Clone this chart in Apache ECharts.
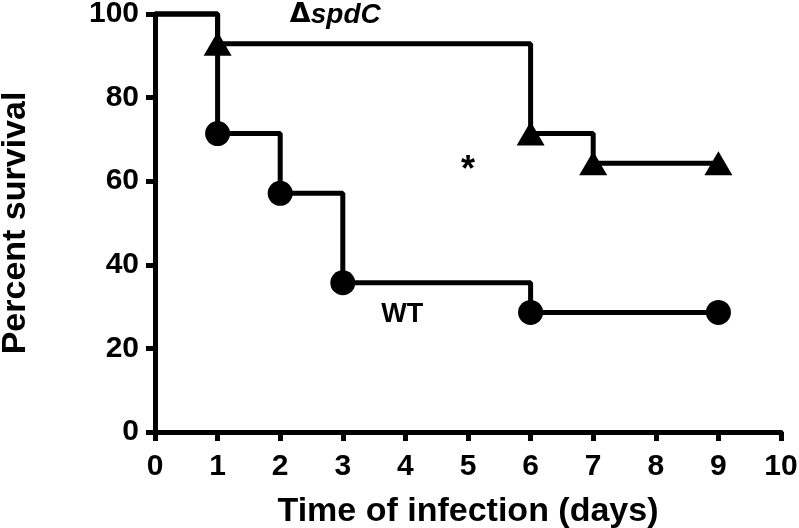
<!DOCTYPE html>
<html>
<head>
<meta charset="utf-8">
<script src="https://cdn.jsdelivr.net/npm/echarts@6/dist/echarts.min.js"></script>
<style>
  html, body { margin: 0; padding: 0; background: #fff; }
  #survivalChart { width: 799px; height: 528px; }
</style>
</head>
<body>
<div id="survivalChart"></div>
<script>
  // Kaplan-Meier steps
  var spdcDays = [0, 1, 6, 7, 9]
  var spdcSurvival = [100, 92.9, 71.4, 64.3, 64.3]
  var wtDays = [0, 1, 2, 3, 6, 9]
  var wtSurvival = [100, 71.4, 57.1, 35.7, 28.6, 28.6]
  var xTicks = [0, 1, 2, 3, 4, 5, 6, 7, 8, 9, 10]
  var yTicks = [0, 20, 40, 60, 80, 100]

  var labelFont = 'Liberation Sans, Arial, sans-serif'

  function stepData (days, values, symbol, size) {
    var out = []
    for (var i = 0; i < days.length; i++) {
      var item = { value: [days[i], values[i]] }
      if (i === 0) {
        item.symbol = 'none'
      } else {
        item.symbol = symbol
        item.symbolSize = size
      }
      out.push(item)
    }
    return out
  }

  var chart = echarts.init(document.getElementById('survivalChart'))
  var option = {
    backgroundColor: '#fff',
    animation: false,
    grid: {
      left: 155,
      right: 18,
      top: 14,
      bottom: 96,
      containLabel: false,
      outerBoundsMode: 'none'
    },
    xAxis: {
      type: 'value',
      min: xTicks[0],
      max: xTicks[xTicks.length - 1],
      interval: 1,
      name: 'Time of infection (days)',
      nameLocation: 'middle',
      nameGap: 63,
      nameTextStyle: { color: '#000', fontSize: 34, fontWeight: 'bold', fontFamily: labelFont },
      splitLine: { show: false },
      axisLine: { show: true, onZero: false, lineStyle: { color: '#000', width: 5 } },
      axisTick: { show: true, length: 9, lineStyle: { color: '#000', width: 5 } },
      axisLabel: { color: '#000', fontSize: 30, fontWeight: 'bold', fontFamily: labelFont, margin: 20 }
    },
    yAxis: {
      type: 'value',
      min: yTicks[0],
      max: yTicks[yTicks.length - 1],
      interval: 20,
      name: 'Percent survival',
      nameLocation: 'middle',
      nameGap: 122,
      nameTextStyle: { color: '#000', fontSize: 34, fontWeight: 'bold', fontFamily: labelFont },
      splitLine: { show: false },
      axisLine: { show: true, onZero: false, lineStyle: { color: '#000', width: 5 } },
      axisTick: { show: true, length: 9, lineStyle: { color: '#000', width: 5 } },
      axisLabel: { color: '#000', fontSize: 30, fontWeight: 'bold', fontFamily: labelFont, margin: 16 }
    },
    series: [
      {
        name: 'ΔspdC',
        type: 'line',
        step: 'end',
        clip: false,
        color: '#000',
        lineStyle: { color: '#000', width: 5 },
        itemStyle: { color: '#000' },
        data: stepData(spdcDays, spdcSurvival, 'triangle', [28, 24]),
        z: 3
      },
      {
        name: 'WT',
        type: 'line',
        step: 'end',
        clip: false,
        color: '#000',
        lineStyle: { color: '#000', width: 5 },
        itemStyle: { color: '#000' },
        data: stepData(wtDays, wtSurvival, 'circle', 25),
        z: 3
      },
      {
        // text annotations placed in data coordinates
        type: 'scatter',
        symbolSize: 1,
        silent: true,
        clip: false,
        itemStyle: { color: 'rgba(0,0,0,0)' },
        label: {
          show: true,
          position: 'inside',
          color: '#000',
          opacity: 1,
          textBorderWidth: 0,
          formatter: '{b}'
        },
        data: [
          {
            name: '{d|Δ}{s|spdC}',
            value: [2.88, 99.8],
            label: {
              color: '#000',
              rich: {
                d: { fontSize: 27, fontWeight: 'bold', fontFamily: 'DejaVu Sans, sans-serif', color: '#000' },
                s: { fontSize: 28, fontWeight: 'bold', fontStyle: 'italic', fontFamily: labelFont, color: '#000' }
              }
            }
          },
          {
            name: 'WT',
            value: [3.95, 28],
            label: { color: '#000', fontSize: 27, fontWeight: 'bold', fontFamily: labelFont }
          },
          {
            name: '*',
            value: [5.0, 62.5],
            label: { color: '#000', fontSize: 36, fontWeight: 'bold', fontFamily: labelFont }
          }
        ]
      }
    ]
  }
  chart.setOption(option)
</script>
</body>
</html>
